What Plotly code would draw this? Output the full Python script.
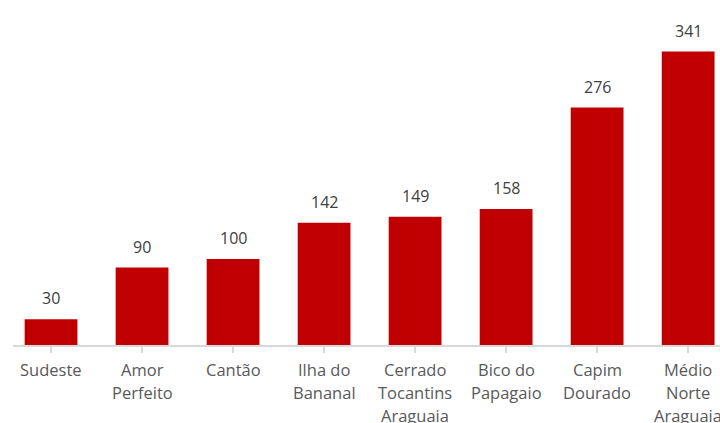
import plotly.graph_objects as go

categories = ["Sudeste", "Amor<br>Perfeito", "Cantão", "Ilha do<br>Bananal",
              "Cerrado<br>Tocantins<br>Araguaia", "Bico do<br>Papagaio",
              "Capim<br>Dourado", "Médio<br>Norte<br>Araguaia"]
values = [30, 90, 100, 142, 149, 158, 276, 341]

BAR = "#C00000"
FONT = "Open Sans"

x_idx = list(range(len(categories)))

fig = go.Figure(go.Bar(
    x=x_idx, y=values, marker=dict(color=BAR, line=dict(width=0)),
    width=0.58, hoverinfo="skip"))

annotations = []
for i, v in enumerate(values):
    annotations.append(dict(x=i, y=v, xref="x", yref="y", text=str(v),
                            showarrow=False, yanchor="bottom", yshift=8,
                            font=dict(family=FONT, size=16, color="#404040")))
for i, c in enumerate(categories):
    for k, line in enumerate(c.split("<br>")):
        annotations.append(dict(x=i, y=0, xref="x", yref="paper", text=line,
                                showarrow=False, yanchor="middle",
                                yshift=-(24 + 23 * k),
                                font=dict(family=FONT, size=16.5, color="#595959")))

fig.update_layout(
    width=720, height=423,
    margin=dict(l=13, r=0, t=0, b=78),
    paper_bgcolor="white", plot_bgcolor="white",
    showlegend=False,
    annotations=annotations,
    xaxis=dict(range=[-0.418, 7.35], tickmode="array", tickvals=x_idx,
               ticktext=[""] * len(x_idx), showgrid=False, zeroline=False,
               showline=True, linecolor="#D9D9D9", linewidth=1.5,
               ticks="outside", tickson="boundaries", ticklen=6,
               tickcolor="#D9D9D9", tickwidth=1.5, type="linear"),
    yaxis=dict(range=[0, 401], visible=False, showgrid=False, zeroline=False),
)

fig.write_html("out.html", config={"displayModeBar": False},
               post_script="document.body.style.margin='0';document.body.style.overflow='hidden';")
